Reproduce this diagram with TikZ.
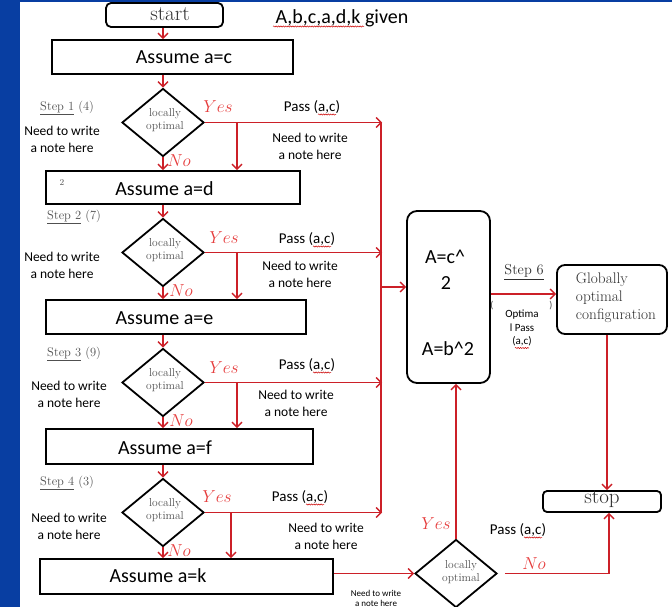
\documentclass[tikz,border=0pt]{standalone}
\usepackage{fontspec}
\newfontfamily\carl{Carlito}
\usetikzlibrary{shapes.geometric,arrows.meta,decorations.pathmorphing}
\definecolor{frameblue}{RGB}{8,62,162}
\definecolor{fred}{RGB}{204,32,40}
\definecolor{lred}{RGB}{230,60,60}
\definecolor{tgray}{RGB}{80,80,80}
\definecolor{dgray}{RGB}{45,45,45}
\begin{document}
\begin{tikzpicture}[x=1pt,y=-1pt,
  box/.style={draw=black,line width=1.8pt,inner sep=0pt},
  dia/.style={draw=black,line width=1.8pt,diamond,inner sep=0pt,minimum width=82pt,minimum height=68pt},
  arr/.style={draw=fred,line width=1.4pt,-{Straight Barb[length=5pt,width=10pt,line width=1.4pt]}},
  bus/.style={draw=fred,line width=2.4pt},
  squig/.style={draw=red!80!black,line width=0.5pt,decorate,decoration={snake,amplitude=0.6pt,segment length=2.4pt}},
  big/.style={font=\carl\fontsize{20}{24}\selectfont,text=black,inner sep=0pt},
  note/.style={font=\carl\fontsize{13.5}{17}\selectfont,text=black,align=center,inner sep=0pt},
  pass/.style={font=\carl\fontsize{15}{18}\selectfont,text=black,inner sep=0pt},
  steplab/.style={font=\fontsize{12.5}{15}\selectfont,text=tgray,anchor=west,inner sep=0pt},
  loc/.style={font=\fontsize{11.5}{13}\selectfont,text=tgray,align=center,inner sep=0pt},
  yeslab/.style={font=\fontsize{18}{20}\selectfont,text=lred,inner sep=0pt},
  termtxt/.style={font=\fontsize{21}{24}\selectfont,text=dgray,inner sep=0pt}
]
\useasboundingbox (0,0) rectangle (672,607);
\fill[white] (0,0) rectangle (672,607);
\fill[frameblue] (0,0) rectangle (20,607);
\fill[frameblue] (0,0) rectangle (672,2);

% coordinates
\coordinate (cx) at (163,0);
\coordinate (bt) at (381,123);
\coordinate (bb) at (381,513);
\coordinate (bm) at (381,287);
\coordinate (j1) at (237,123);
\coordinate (j2) at (237,253);
\coordinate (j3) at (237,383);
\coordinate (j4) at (231,513);
\coordinate (sx) at (607,0);
\coordinate (nx) at (609,0);

% start
\node[box,rounded corners=5pt,minimum width=117pt,minimum height=24pt] (start) at (164.5,15) {};
\node[termtxt] (starttxt) at (170,14) {start};
\node[big] (given) at (342,18) {A,b,c,a,d,k given};
\draw[squig] (273,26.5) -- (364,26.5);

% boxes
\node[box,minimum width=241pt,minimum height=34pt] (bc) at (172.5,57) {};
\node[big] (tc) at (184,57) {Assume a=c};
\node[box,minimum width=254pt,minimum height=33pt] (bd) at (173,187.5) {};
\node[big] (td) at (164.5,189) {Assume a=d};
\node[font=\fontsize{9}{10}\selectfont,text=tgray,inner sep=0pt] (two) at (62,183) {2};
\node[box,minimum width=260pt,minimum height=34pt] (be) at (176,317) {};
\node[big] (te) at (164.5,318) {Assume a=e};
\node[box,minimum width=267pt,minimum height=35pt] (bf) at (179.5,446.5) {};
\node[big] (tf) at (165,448) {Assume a=f};
\node[box,minimum width=293pt,minimum height=35pt] (bk) at (186.5,576.5) {};
\node[big] (tk) at (158,576) {Assume a=k};

% diamonds
\node[dia] (D1) at (163,122.5) {};
\node[loc] (l1) at (165,120) {locally\\optimal};
\node[dia] (D2) at (163,252.5) {};
\node[loc] (l2) at (165,250) {locally\\optimal};
\node[dia] (D3) at (163,382.5) {};
\node[loc] (l3) at (165,380) {locally\\optimal};
\node[dia] (D4) at (163,512.5) {};
\node[loc] (l4) at (165,510) {locally\\optimal};
\node[dia] (D5) at (456,573.5) {};
\node[loc] (l5) at (461,572) {locally\\optimal};

% right column
\node[box,rounded corners=10pt,minimum width=83pt,minimum height=172pt] (A) at (448.5,297) {};
\node[big] (a1) at (445,257) {A=c\^{}};
\node[big] (a2) at (446,283) {2};
\node[big] (a3) at (448,349) {A=b\^{}2};
\node[box,rounded corners=8pt,minimum width=110pt,minimum height=69pt] (G) at (612,299.5) {};
\node[font=\fontsize{15.3}{18}\selectfont,text=dgray,align=left,inner sep=0pt] (gt) at (616,298) {Globally\\optimal\\configuration};
\node[box,rounded corners=4pt,minimum width=118pt,minimum height=21pt] (stop) at (602,501.5) {};
\node[termtxt] (stoptxt) at (602,499) {stop};

% labels
\node[steplab] (s1) at (40,108) {\underline{Step 1} (4)};
\node[steplab] (s2) at (47,217) {\underline{Step 2} (7)};
\node[steplab] (s3) at (47,354) {\underline{Step 3} (9)};
\node[steplab] (s4) at (40,483) {\underline{Step 4} (3)};
\node[font=\fontsize{14.4}{16}\selectfont,text=dgray,inner sep=0pt] (s6) at (524,272) {\underline{Step 6}};

\node[note] (n1) at (62,139) {Need to write\\a note here};
\node[note] (n2) at (62,265) {Need to write\\a note here};
\node[note] (n3) at (69,394) {Need to write\\a note here};
\node[note] (n4) at (69,526) {Need to write\\a note here};
\node[note] (r1) at (310,146) {Need to write\\a note here};
\node[note] (r2) at (300,274) {Need to write\\a note here};
\node[note] (r3) at (296,403) {Need to write\\a note here};
\node[note] (r4) at (326,536) {Need to write\\a note here};
\node[note,font=\carl\fontsize{9}{10}\selectfont] (r5) at (376,598) {Need to write\\a note here};
\node[note,font=\carl\fontsize{11}{13.5}\selectfont] (op) at (522,328) {Optima\\l Pass\\(a,c)};
\draw[squig] ([xshift=-7pt,yshift=-20pt]op.center) -- ([xshift=7pt,yshift=-20pt]op.center);
\node[font=\carl\fontsize{10}{12}\selectfont,text=tgray,inner sep=0pt] (p1) at (492,306) {(};
\node[font=\carl\fontsize{10}{12}\selectfont,text=tgray,inner sep=0pt] (p2) at (551,306) {)};

\node[pass] (P1) at (312,107) {Pass (a,c)};
\node[pass] (P2) at (307,239) {Pass (a,c)};
\node[pass] (P3) at (307,365) {Pass (a,c)};
\node[pass] (P4) at (300,497) {Pass (a,c)};
\node[pass] (P5) at (518,530) {Pass (a,c)};
\foreach \p in {P1,P2,P3,P4,P5}
  \draw[squig] ([xshift=6pt,yshift=-7.5pt]\p.center) -- ([xshift=24pt,yshift=-7.5pt]\p.center);

\node[yeslab] (y1) at (218,107) {$Yes$};
\node[yeslab] (y2) at (224,238) {$Yes$};
\node[yeslab] (y3) at (224,368) {$Yes$};
\node[yeslab] (y4) at (217,497) {$Yes$};
\node[yeslab] (y5) at (436,524) {$Yes$};
\node[yeslab] (no1) at (179,161) {$No$};
\node[yeslab] (no2) at (181,291) {$No$};
\node[yeslab] (no3) at (181,421) {$No$};
\node[yeslab] (no4) at (179,551) {$No$};
\node[yeslab] (no5) at (534,564) {$No$};

% vertical flow
\draw[arr] (cx |- start.south) -- (cx |- bc.north);
\draw[arr] (cx |- bc.south) -- (D1.north);
\draw[arr] (D1.south) -- (D1.south |- bd.north);
\draw[arr] (cx |- bd.south) -- (D2.north);
\draw[arr] (D2.south) -- (D2.south |- be.north);
\draw[arr] (cx |- be.south) -- (D3.north);
\draw[arr] (D3.south) -- (D3.south |- bf.north);
\draw[arr] (cx |- bf.south) -- (D4.north);
\draw[arr] (D4.south) -- (D4.south |- bk.north);

% yes lines
\draw[arr] (D1.east) -- ([xshift=1pt]D1.east -| bt);
\draw[arr] (D2.east) -- ([xshift=1pt]D2.east -| bt);
\draw[arr] (D3.east) -- ([xshift=1pt]D3.east -| bt);
\draw[arr] (D4.east) -- ([xshift=1pt]D4.east -| bt);
\draw[arr] (j1) -- (j1 |- bd.north);
\draw[arr] (j2) -- (j2 |- be.north);
\draw[arr] (j3) -- (j3 |- bf.north);
\draw[arr] (j4) -- (j4 |- bk.north);
\draw[bus] (bt) -- (bb);
\draw[arr] (bm) -- (bm -| A.west);

% right part
\draw[arr] ([yshift=3pt]A.east) -- ([yshift=3pt]A.east -| G.west);
\draw[arr] (sx |- G.south) -- (sx |- stop.north);
\draw[arr] (bk.east |- D5.west) -- (D5.west);
\draw[arr] (D5.north) -- (D5.north |- A.south);
\draw[arr] ([xshift=7pt]D5.east) -- (D5.east -| nx) -- (nx |- stop.south);
\end{tikzpicture}
\end{document}
